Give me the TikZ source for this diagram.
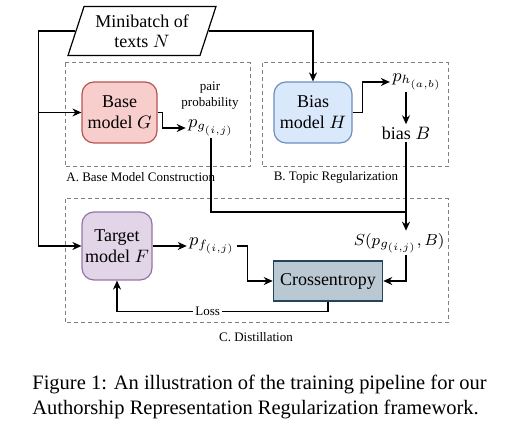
\documentclass[tikz,border=0pt]{standalone}
\usepackage[no-math]{fontspec}
\setmainfont{Liberation Serif}
\usetikzlibrary{arrows.meta,shapes.geometric}

\definecolor{basefill}{HTML}{F8CECC}
\definecolor{basedraw}{HTML}{B85450}
\definecolor{biasfill}{HTML}{DAE8FC}
\definecolor{biasdraw}{HTML}{6C8EBF}
\definecolor{targetfill}{HTML}{E1D5E7}
\definecolor{targetdraw}{HTML}{9673A6}
\definecolor{cefill}{HTML}{BAC8D3}
\definecolor{cedraw}{HTML}{23445D}

\tikzset{
  model/.style={draw,rounded corners=6pt,align=center,line width=0.6pt,
    font=\fontsize{9}{10.5}\selectfont,inner sep=0pt},
  arr/.style={-{Stealth[length=4.5pt,width=4pt]},line width=0.6pt},
  wire/.style={line width=0.6pt},
  stage/.style={draw=gray,dashed,dash pattern=on 2pt off 1.5pt,line width=0.5pt},
  stagename/.style={font=\fontsize{6.5}{8}\selectfont,inner sep=0pt},
  qty/.style={font=\fontsize{9}{10.5}\selectfont,inner sep=1pt}
}

\begin{document}
\begin{tikzpicture}[x=0.5pt,y=-0.5pt]
\useasboundingbox (0,0) rectangle (515,431);

\draw[stage] (65,63) rectangle (250,167);
\draw[stage] (262,63) rectangle (448,167);
\draw[stage] (65,199) rectangle (448,323);
\node[stagename,anchor=west] (nameA) at (66,177) {A. Base Model Construction};
\node[stagename] (nameB) at (336,177) {B. Topic Regularization};
\node[stagename] (nameC) at (256,337) {C. Distillation};

\node[draw,trapezium,trapezium left angle=64,trapezium right angle=116,
  trapezium stretches body,minimum width=74pt,minimum height=24.5pt,
  inner sep=0pt,line width=0.6pt,align=center,
  font=\fontsize{9}{10}\selectfont] (mb) at (142,31) {Minibatch of\\texts $N$};

\node[model,fill=basefill,draw=basedraw,
  minimum width=37.5pt,minimum height=30.5pt] (G) at (119.5,112.5) {Base\\model $G$};
\node[model,fill=biasfill,draw=biasdraw,
  minimum width=39pt,minimum height=30.5pt] (H) at (313,112.5) {Bias\\model $H$};
\node[model,fill=targetfill,draw=targetdraw,
  minimum width=35pt,minimum height=34pt] (F) at (117,246) {Target\\model $F$};
\node[draw=cedraw,fill=cefill,line width=0.6pt,
  font=\fontsize{9}{10.5}\selectfont,
  minimum width=54pt,minimum height=20pt] (CE) at (328,281) {Crossentropy};

\node[stagename,align=center] (pairlbl) at (210,96) {pair\\probability};
\node[qty] (pg) at (211,128) {$p_{g_{(i,j)}}$};
\node[qty] (ph) at (417,82) {$p_{h_{(a,b)}}$};
\node[qty] (bias) at (406,133) {bias $B$};
\node[qty,font=\fontsize{8.2}{10}\selectfont,anchor=east] (S) at (447,243) {$S(p_{g_{(i,j)}},B)$};
\node[qty] (pf) at (212,246) {$p_{f_{(i,j)}}$};

\coordinate (join) at (406,212);

\draw[arr] (mb.west) -- ++(-37,0) |- (G.west);
\draw[arr] (mb.west) -- ++(-37,0) |- (F.west);
\draw[arr] (mb.east) -| (H.north);
\draw[arr] (G.east) -- ++(5,0) |- (pg.west);
\draw[arr] (H.east) -- ++(10,0) |- (ph.west);
\draw[arr] (bias.north |- ph.south) -- (bias.north);
\draw[wire] (pg.south) |- (join);
\draw[arr] (bias.south) -- (bias.south |- S.north);
\draw[arr] (bias.south |- S.south) |- (CE.east);
\draw[arr] (F.east) -- (pf.west);
\draw[arr] (pf.east) -- ++(10,0) |- (CE.west);
\draw[arr] (CE.south) -- ++(0,10) -| node[pos=0.285,fill=white,inner sep=1pt,
  font=\fontsize{6.5}{8}\selectfont] (loss) {Loss} (F.south);

\node[anchor=north west,align=left,inner sep=0pt,
  font=\fontsize{10.25}{12.5}\selectfont] (caption) at (32,375)
  {Figure 1: An illustration of the training pipeline for our\\
   Authorship Representation Regularization framework.};
\end{tikzpicture}
\end{document}
